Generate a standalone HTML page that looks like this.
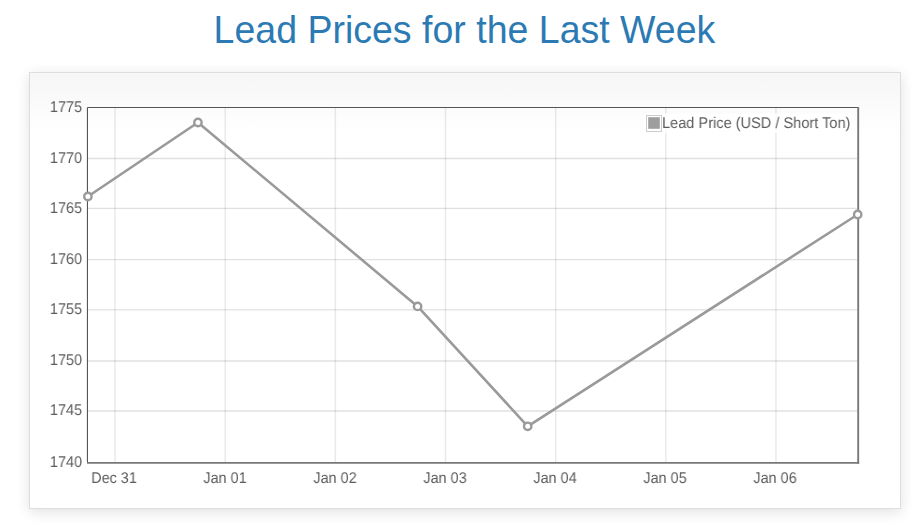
<!DOCTYPE html>
<html><head><meta charset="utf-8">
<style>
html,body{margin:0;padding:0;background:#fff;width:920px;height:525px;overflow:hidden;position:relative;font-family:"Liberation Sans",sans-serif;}
h1{position:absolute;left:213.6px;top:9px;margin:0;font-weight:normal;font-size:37.5px;line-height:43px;color:#2c7ab4;white-space:nowrap;transform:scaleY(1.04);transform-origin:0 34px;}
.box{position:absolute;left:29px;top:72px;width:872px;height:437px;box-sizing:border-box;border:1px solid #ddd;background:linear-gradient(#f6f6f6 0,#fff 60px);box-shadow:0 3px 13px rgba(0,0,0,0.12);}
svg{position:absolute;left:0;top:0;}
.yl{will-change:transform;position:absolute;left:20px;width:62px;text-align:right;font-size:15.5px;line-height:17px;color:#5c5c5c;text-rendering:geometricPrecision;transform:scaleX(0.93);transform-origin:100% 50%;}
.xl{will-change:transform;position:absolute;top:470.3px;width:80px;text-align:center;font-size:15.5px;line-height:17px;color:#5c5c5c;text-rendering:geometricPrecision;transform:scaleX(0.93);transform-origin:50% 50%;}
.lg{will-change:transform;position:absolute;left:662.4px;top:115.2px;font-size:15.5px;line-height:17px;color:#5c5c5c;white-space:nowrap;text-rendering:geometricPrecision;transform:scaleX(0.94);transform-origin:0 50%;}
</style></head><body>
<h1>Lead Prices for the Last Week</h1>
<div class="box"></div>
<svg width="920" height="525" viewBox="0 0 920 525">
<line x1="88" y1="158.5" x2="857.2" y2="158.5" stroke="#000" stroke-opacity="0.12" stroke-width="1.3"/>
<line x1="88" y1="208.4" x2="857.2" y2="208.4" stroke="#000" stroke-opacity="0.12" stroke-width="1.3"/>
<line x1="88" y1="259.7" x2="857.2" y2="259.7" stroke="#000" stroke-opacity="0.12" stroke-width="1.3"/>
<line x1="88" y1="309.8" x2="857.2" y2="309.8" stroke="#000" stroke-opacity="0.12" stroke-width="1.3"/>
<line x1="88" y1="361.0" x2="857.2" y2="361.0" stroke="#000" stroke-opacity="0.12" stroke-width="1.3"/>
<line x1="88" y1="411.0" x2="857.2" y2="411.0" stroke="#000" stroke-opacity="0.12" stroke-width="1.3"/>
<line x1="115.07" y1="108" x2="115.07" y2="462" stroke="#000" stroke-opacity="0.085" stroke-width="1.5"/>
<line x1="225.22" y1="108" x2="225.22" y2="462" stroke="#000" stroke-opacity="0.085" stroke-width="1.5"/>
<line x1="335.37" y1="108" x2="335.37" y2="462" stroke="#000" stroke-opacity="0.085" stroke-width="1.5"/>
<line x1="445.52" y1="108" x2="445.52" y2="462" stroke="#000" stroke-opacity="0.085" stroke-width="1.5"/>
<line x1="555.67" y1="108" x2="555.67" y2="462" stroke="#000" stroke-opacity="0.085" stroke-width="1.5"/>
<line x1="665.82" y1="108" x2="665.82" y2="462" stroke="#000" stroke-opacity="0.085" stroke-width="1.5"/>
<line x1="775.97" y1="108" x2="775.97" y2="462" stroke="#000" stroke-opacity="0.085" stroke-width="1.5"/>
<rect x="644" y="113.6" width="207.4" height="19.2" fill="#fff" fill-opacity="0.85"/>
<path d="M86.5 462 V107" fill="none" stroke="#000" stroke-opacity="0.07" stroke-width="1"/>
<path d="M87.5 462 V107.5 H858" fill="none" stroke="#555" stroke-width="1"/>
<path d="M858.2 107 V463.8" fill="none" stroke="#787878" stroke-width="1.9"/>
<path d="M87 462.9 H859.15" fill="none" stroke="#787878" stroke-width="1.8"/>
<path d="M87.9 196.5 L197.95 122.5 L417.6 306.4 L527.7 426.3 L857.7 214.5" fill="none" stroke="#9a9a9a" stroke-width="2.6" stroke-linejoin="round"/>
<circle cx="87.9" cy="196.5" r="3.7" fill="#fff" stroke="#9a9a9a" stroke-width="2.4"/>
<circle cx="197.95" cy="122.5" r="3.7" fill="#fff" stroke="#9a9a9a" stroke-width="2.4"/>
<circle cx="417.6" cy="306.4" r="3.7" fill="#fff" stroke="#9a9a9a" stroke-width="2.4"/>
<circle cx="527.7" cy="426.3" r="3.7" fill="#fff" stroke="#9a9a9a" stroke-width="2.4"/>
<circle cx="857.7" cy="214.5" r="3.7" fill="#fff" stroke="#9a9a9a" stroke-width="2.4"/>
<rect x="646.5" y="115.5" width="15" height="16" fill="#fff" stroke="#ccc" stroke-width="1"/>
<rect x="648.2" y="117.2" width="11.6" height="11.6" fill="#9e9e9e"/>
</svg>
<div class="yl" style="top:99.4px">1775</div>
<div class="yl" style="top:150.0px">1770</div>
<div class="yl" style="top:199.6px">1765</div>
<div class="yl" style="top:251.4px">1760</div>
<div class="yl" style="top:300.6px">1755</div>
<div class="yl" style="top:351.5px">1750</div>
<div class="yl" style="top:402.4px">1745</div>
<div class="yl" style="top:453.5px">1740</div>
<div class="xl" style="left:74.4px">Dec 31</div>
<div class="xl" style="left:184.5px">Jan 01</div>
<div class="xl" style="left:294.7px">Jan 02</div>
<div class="xl" style="left:404.8px">Jan 03</div>
<div class="xl" style="left:515.0px">Jan 04</div>
<div class="xl" style="left:625.1px">Jan 05</div>
<div class="xl" style="left:735.3px">Jan 06</div>
<div class="lg">Lead Price (USD / Short Ton)</div>
</body></html>
